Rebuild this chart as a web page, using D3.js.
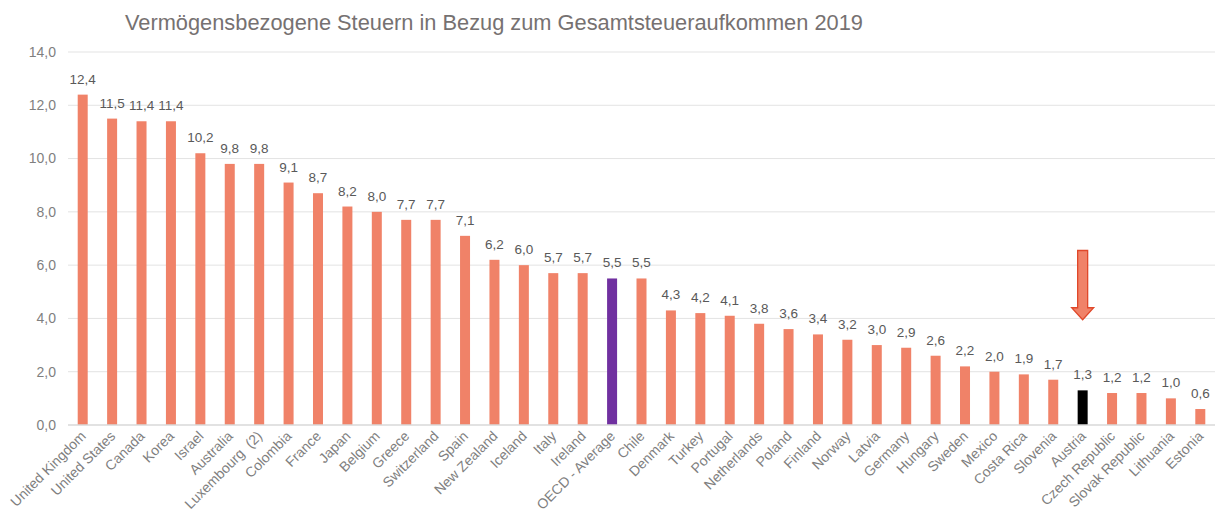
<!DOCTYPE html>
<html>
<head>
<meta charset="utf-8">
<title>Vermögensbezogene Steuern 2019</title>
<script src="https://d3js.org/d3.v7.min.js"></script>
<style>
  body { margin: 0; background: #fff; font-family: "Liberation Sans", Arial, sans-serif; }
  .cat { white-space: pre; }
</style>
</head>
<body>
<div id="chart"></div>
<script>
const countries = ["United Kingdom", "United States", "Canada", "Korea", "Israel", "Australia",
  "Luxembourg  (2)", "Colombia", "France", "Japan", "Belgium", "Greece", "Switzerland", "Spain",
  "New Zealand", "Iceland", "Italy", "Ireland", "OECD - Average", "Chile", "Denmark", "Turkey",
  "Portugal", "Netherlands", "Poland", "Finland", "Norway", "Latvia", "Germany", "Hungary",
  "Sweden", "Mexico", "Costa Rica", "Slovenia", "Austria", "Czech Republic", "Slovak Republic",
  "Lithuania", "Estonia"];
const values = [12.4, 11.5, 11.4, 11.4, 10.2, 9.8, 9.8, 9.1, 8.7, 8.2, 8.0, 7.7, 7.7, 7.1,
  6.2, 6.0, 5.7, 5.7, 5.5, 5.5, 4.3, 4.2, 4.1, 3.8, 3.6, 3.4, 3.2, 3.0, 2.9, 2.6,
  2.2, 2.0, 1.9, 1.7, 1.3, 1.2, 1.2, 1.0, 0.6];
const yTicks = [0, 2, 4, 6, 8, 10, 12, 14];
const highlight = { "OECD - Average": "#7030a0", "Austria": "#000000" };
const arrowCountry = "Austria";

const width = 1217, height = 516;
const margin = { top: 52, right: 2, bottom: 91, left: 68 };

const svg = d3.select("#chart").append("svg")
  .attr("width", width)
  .attr("height", height);

svg.append("text")
  .attr("x", 125)
  .attr("y", 30)
  .attr("font-size", 21.8)
  .attr("fill", "#767171")
  .text("Vermögensbezogene Steuern in Bezug zum Gesamtsteueraufkommen 2019");

const x = d3.scaleBand()
  .domain(countries)
  .range([margin.left, width - margin.right])
  .paddingInner(0.66)
  .paddingOuter(0.33);

const y = d3.scaleLinear()
  .domain([0, 14])
  .range([height - margin.bottom, margin.top]);

const fmt = v => d3.format(".1f")(v).replace(".", ",");

// gridlines
svg.append("g")
  .selectAll("line")
  .data(yTicks.filter(d => d > 0))
  .join("line")
  .attr("x1", margin.left)
  .attr("x2", width - margin.right)
  .attr("y1", d => y(d))
  .attr("y2", d => y(d))
  .attr("stroke", "#e3e3e3")
  .attr("stroke-width", 1);

// y tick labels
svg.append("g")
  .selectAll("text")
  .data(yTicks)
  .join("text")
  .attr("x", 56)
  .attr("y", d => y(d))
  .attr("dy", "0.35em")
  .attr("text-anchor", "end")
  .attr("font-size", 14)
  .attr("fill", "#7f7f7f")
  .text(fmt);

// bars
svg.append("g")
  .selectAll("rect")
  .data(values)
  .join("rect")
  .attr("x", (_, i) => x(countries[i]))
  .attr("y", d => y(d))
  .attr("width", x.bandwidth())
  .attr("height", d => y(0) - y(d))
  .attr("fill", (_, i) => highlight[countries[i]] || "#f08268");

// baseline
svg.append("line")
  .attr("x1", margin.left)
  .attr("x2", width - margin.right)
  .attr("y1", y(0))
  .attr("y2", y(0))
  .attr("stroke", "#d9d9d9")
  .attr("stroke-width", 1.5);

// value labels
svg.append("g")
  .selectAll("text")
  .data(values)
  .join("text")
  .attr("x", (_, i) => x(countries[i]) + x.bandwidth() / 2)
  .attr("y", d => y(d) - 11)
  .attr("text-anchor", "middle")
  .attr("font-size", 13.5)
  .attr("fill", "#595959")
  .text(fmt);

// category labels
svg.append("g")
  .selectAll("text")
  .data(countries)
  .join("text")
  .attr("class", "cat")
  .attr("transform", d => `translate(${x(d) + x.bandwidth() / 2 + 4},${y(0) + 12}) rotate(-45)`)
  .attr("text-anchor", "end")
  .attr("font-size", 14)
  .attr("fill", "#7f7f7f")
  .text(d => d);

// arrow above Austria
const ax = x(arrowCountry) + x.bandwidth() / 2;
const aTop = y(6.55), aShaft = y(4.4), aTip = y(3.95);
svg.append("path")
  .attr("d", `M${ax - 5},${aTop} L${ax + 5},${aTop} L${ax + 5},${aShaft} L${ax + 11},${aShaft}
    L${ax},${aTip} L${ax - 11},${aShaft} L${ax - 5},${aShaft} Z`)
  .attr("fill", "#f08268")
  .attr("stroke", "#e0482a")
  .attr("stroke-width", 1.3);
</script>
</body>
</html>
